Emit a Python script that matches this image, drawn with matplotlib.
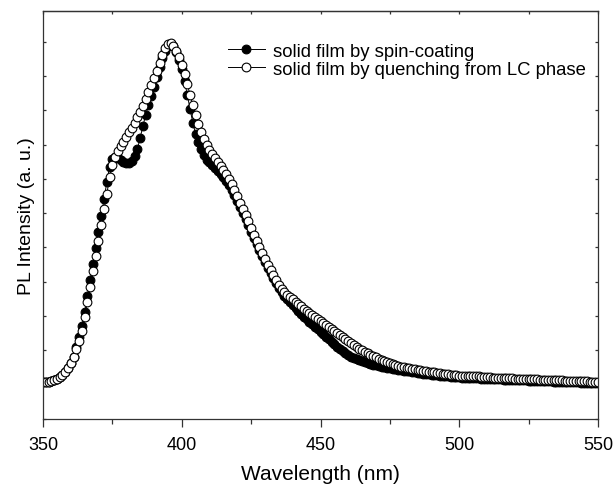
import numpy as np
import matplotlib
matplotlib.use('Agg')
import matplotlib.pyplot as plt

plt.rcParams['font.family'] = ['Liberation Sans', 'DejaVu Sans']

wavelength = np.arange(350, 551, 1)

# PL intensity (a.u.), solid film by spin-coating
spin = [108, 108, 109, 111, 114, 117, 122, 128, 137, 149,
        163, 181, 210, 239, 271, 312, 359, 405, 452, 498,
        545, 592, 641, 691, 735, 758, 764, 761, 755, 749,
        746, 746, 752, 767, 787, 819, 854, 886, 915, 942,
        968, 997, 1026, 1052, 1073, 1087, 1093, 1087, 1070, 1046,
        1020, 985, 944, 904, 863, 831, 807, 787, 770, 755,
        749, 740, 732, 723, 714, 705, 694, 682, 668, 653,
        635, 618, 600, 583, 566, 545, 528, 510, 493, 475,
        458, 440, 426, 411, 396, 382, 370, 359, 350, 341,
        332, 324, 315, 306, 297, 292, 283, 277, 268, 262,
        254, 248, 239, 233, 224, 219, 210, 204, 198, 192,
        187, 182, 178, 175, 172, 169, 166, 163, 160, 157,
        156, 154, 153, 152, 150, 149, 147, 146, 144, 143,
        141, 140, 139, 137, 136, 134, 133, 132, 131, 130,
        128, 128, 127, 126, 125, 125, 124, 123, 123, 122,
        122, 121, 121, 120, 120, 120, 119, 119, 118, 118,
        118, 117, 117, 116, 116, 116, 115, 115, 115, 114,
        114, 114, 113, 113, 113, 112, 112, 112, 111, 111,
        111, 110, 110, 110, 109, 109, 109, 108, 108, 108,
        107, 107, 107, 107, 106, 106, 106, 105, 105, 105,
        105]

# PL intensity (a.u.), solid film by quenching from LC phase
quench = [108, 108, 109, 111, 114, 117, 122, 128, 137, 149,
          163, 181, 204, 227, 257, 297, 341, 385, 431, 475,
          519, 566, 612, 656, 705, 740, 764, 781, 796, 807,
          822, 837, 848, 863, 880, 895, 912, 933, 953, 974,
          994, 1014, 1038, 1061, 1081, 1093, 1096, 1087, 1073, 1055,
          1032, 1006, 977, 944, 915, 886, 860, 837, 816, 799,
          784, 772, 761, 749, 737, 726, 714, 700, 685, 668,
          650, 630, 612, 595, 577, 557, 536, 519, 501, 484,
          466, 449, 434, 420, 405, 391, 379, 370, 361, 356,
          350, 341, 335, 329, 321, 315, 309, 303, 297, 292,
          286, 280, 274, 268, 262, 257, 251, 245, 239, 233,
          227, 222, 216, 210, 204, 201, 195, 192, 187, 184,
          181, 175, 172, 169, 166, 163, 160, 157, 154, 153,
          152, 150, 149, 147, 146, 144, 143, 141, 140, 138,
          137, 136, 134, 133, 132, 131, 130, 129, 128, 127,
          126, 126, 126, 125, 125, 125, 124, 124, 123, 123,
          122, 122, 121, 121, 121, 120, 120, 120, 119, 119,
          118, 118, 118, 117, 117, 117, 116, 116, 116, 115,
          115, 115, 114, 114, 114, 113, 113, 113, 112, 112,
          112, 111, 111, 111, 110, 110, 110, 109, 109, 108,
          108]

labels = ['solid film by spin-coating', 'solid film by quenching from LC phase']

fig = plt.figure(figsize=(6.15, 4.85), dpi=100)
ax = fig.add_axes([0.0699, 0.134, 0.9025, 0.841])

ax.plot(wavelength, spin, color='black', lw=0.7, marker='o', ms=6.3,
        mfc='black', mec='black', mew=0.8, label=labels[0])
ax.plot(wavelength, quench, color='black', lw=0.7, marker='o', ms=6.3,
        mfc='white', mec='black', mew=0.8, label=labels[1])

ax.set_xlim(350, 550)
ax.set_ylim(0, 1189)
ax.set_xticks(np.arange(350, 551, 50))
ax.set_xticks(np.arange(375, 551, 50), minor=True)
ax.set_yticks(np.arange(0, 1101, 100))

for s in ax.spines.values():
    s.set_linewidth(0.9)
    s.set_color('#333333')

ax.tick_params(axis='x', which='major', direction='out', length=6, width=0.9,
               labelsize=13, pad=6, color='#333333')
ax.tick_params(axis='x', which='minor', direction='out', length=3.5, width=0.9,
               color='#333333')
ax.tick_params(axis='y', direction='in', length=2.5, width=0.9, left=True,
               right=True, labelleft=False, color='#333333')

top = ax.secondary_xaxis('top')
top.set_xticks(np.arange(350, 551, 25))
top.tick_params(direction='in', length=2.5, width=0.9, labeltop=False,
                color='#333333')
top.spines['top'].set_linewidth(0.9)
top.spines['top'].set_color('#333333')

ax.set_xlabel('Wavelength (nm)', fontsize=15, labelpad=8)
ax.set_ylabel('PL Intensity (a. u.)', fontsize=14, labelpad=6)

ax.legend(loc='upper left', bbox_to_anchor=(0.333, 0.922), frameon=False,
          fontsize=13.3, handlelength=2.0, handletextpad=0.45,
          labelspacing=0.05, borderaxespad=0, borderpad=0)

fig.savefig('out.png', dpi=100)
